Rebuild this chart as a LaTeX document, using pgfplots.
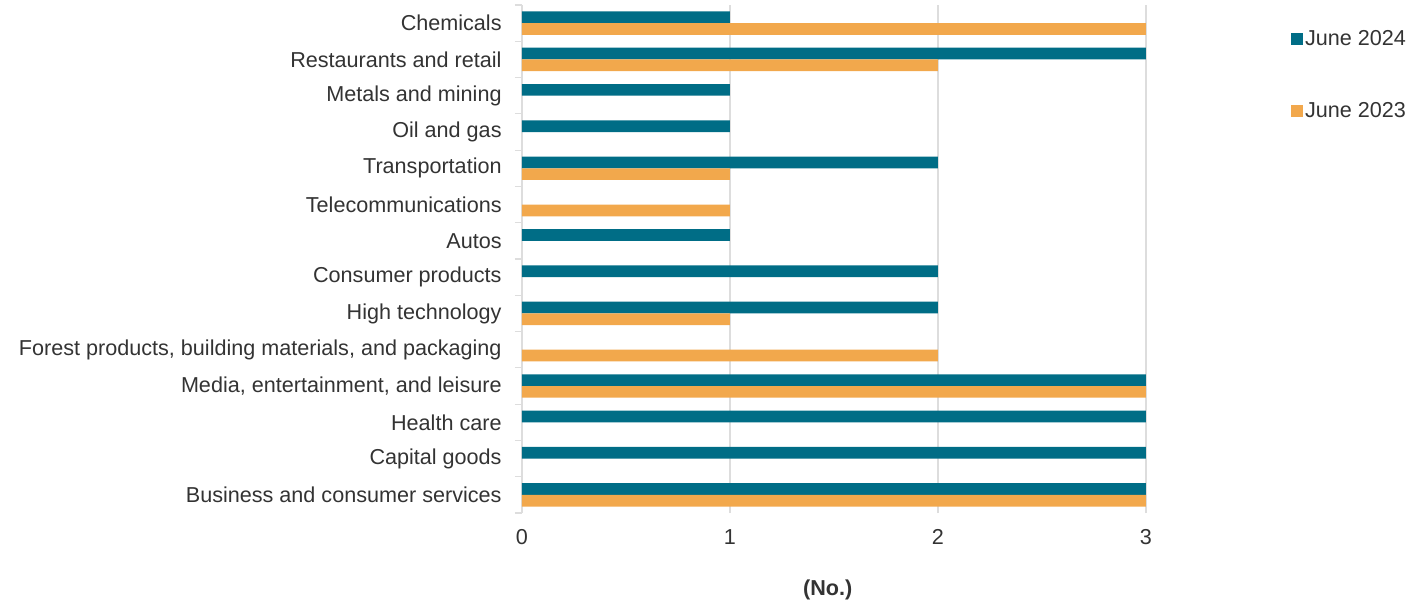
\documentclass[border=0pt]{standalone}
\usepackage{pgfplots}
\pgfplotsset{compat=1.18}
\usepackage{fontspec}
\setmainfont{Liberation Sans}
\definecolor{teal24}{HTML}{006D86}
\definecolor{orange23}{HTML}{F2A84C}
\definecolor{txt}{HTML}{333333}
\definecolor{gridc}{HTML}{DDDDDD}
\begin{document}
\begin{tikzpicture}[font=\fontsize{10.8pt}{13pt}\selectfont, text=txt]
\path[use as bounding box] (-261pt,-44pt) rectangle (452pt,256.5pt);
\begin{axis}[
  at={(0,0)}, anchor=south west,
  scale only axis, width=312pt, height=254pt,
  xbar, bar width=5.85pt,
  xmin=0, xmax=3,
  ymin=-0.5, ymax=13.5,
  xtick={0,1,2,3},
  /pgf/number format/assume math mode=true,
  xmajorgrids, grid style={draw=gridc, line width=0.6pt},
  ytick={0,...,13},
  yticklabels={Business and consumer services, Capital goods, Health care,
    {Media, entertainment, and leisure},
    {Forest products, building materials, and packaging},
    High technology, Consumer products, Autos, Telecommunications,
    Transportation, Oil and gas, Metals and mining\hspace{0.3em},
    Restaurants and retail, Chemicals},
  major tick length=0pt,
  extra y ticks={-0.5,0.5,...,13.5},
  extra y tick labels={},
  extra y tick style={major tick length=3.5pt, tick align=outside,
    tick style={draw=gridc, line width=0.6pt}},
  axis x line*=bottom, axis y line*=left,
  x axis line style={draw=none},
  y axis line style={draw=gridc, line width=0.6pt},
  yticklabel style={inner sep=0pt, xshift=-10pt, text=txt},
  xticklabel style={inner sep=0pt, yshift=-8pt, text=txt},
  xlabel={\textbf{(No.)}},
  xlabel style={at={(axis description cs:0.49,0)}, anchor=center, yshift=-38.5pt, text=txt},
  legend style={at={(1.232,0.955)}, anchor=north west, draw=none, fill=none,
    inner sep=0pt, row sep=25pt, nodes={inner sep=1pt, text=txt},
    font=\fontsize{10.8pt}{13pt}\selectfont},
  legend cell align=left,
  legend image code/.code={\fill[#1] (0pt,-3pt) rectangle (6pt,3pt);},
]
% June 2024
\addplot[fill=teal24, draw=none, bar shift=2.925pt] coordinates {
  (3,0) (3,1) (3,2) (3,3) (2,5) (2,6) (1,7) (2,9) (1,10) (1,11) (3,12) (1,13)};
\addlegendentry{June 2024}
% June 2023
\addplot[fill=orange23, draw=none, bar shift=-2.925pt] coordinates {
  (3,0) (3,3) (2,4) (1,5) (1,8) (1,9) (2,12) (3,13)};
\addlegendentry{June 2023}
\end{axis}
\end{tikzpicture}
\end{document}
